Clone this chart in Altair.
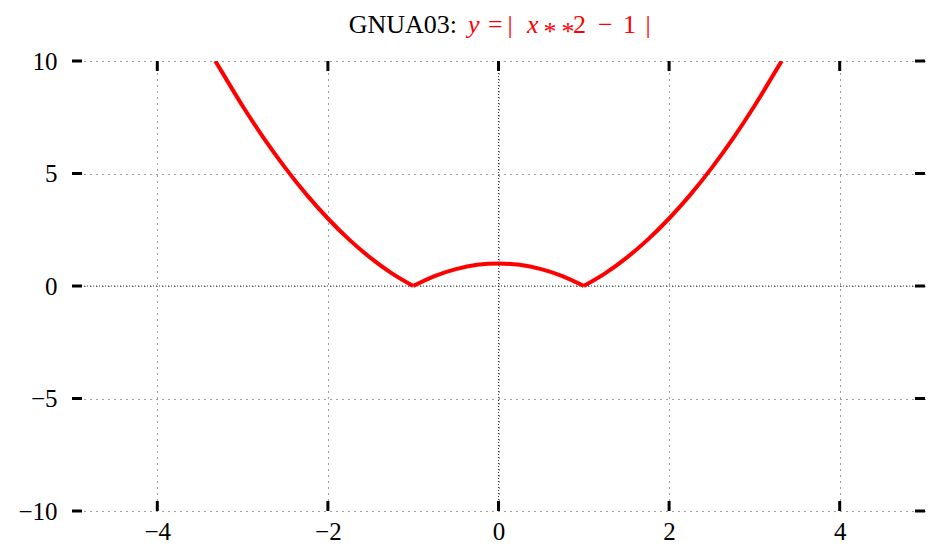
import altair as alt
import pandas as pd

# Curve values (y = |x**2 - 1|)
x_vals = [-3.32, -3.25, -3.0, -2.75, -2.5, -2.25, -2.0, -1.75, -1.5, -1.25, -1.0,
          -0.75, -0.5, -0.25, 0.0, 0.25, 0.5, 0.75, 1.0, 1.25, 1.5, 1.75, 2.0,
          2.25, 2.5, 2.75, 3.0, 3.25, 3.32]
y_vals = [10.0, 9.56, 8.0, 6.56, 5.25, 4.06, 3.0, 2.06, 1.25, 0.56, 0.0,
          0.44, 0.75, 0.94, 1.0, 0.94, 0.75, 0.44, 0.0, 0.56, 1.25, 2.06, 3.0,
          4.06, 5.25, 6.56, 8.0, 9.56, 10.0]
x_ticks = [-4, -2, 0, 2, 4]
y_ticks = [-10, -5, 0, 5, 10]

W, H = 853, 450
FONT = "Liberation Serif"
FS = 25

# split the curve at its two corners so each smooth piece is drawn separately
i1 = x_vals.index(-1.0)
i2 = x_vals.index(1.0)
pieces = []
for k, (a, b) in enumerate([(0, i1 + 1), (i1, i2 + 1), (i2, len(x_vals))]):
    pieces.append(pd.DataFrame({"x": x_vals[a:b], "y": y_vals[a:b], "seg": k}))
curve_df = pd.concat(pieces, ignore_index=True)

xs = alt.Scale(domain=[-5, 5], nice=False, zero=False)
ys = alt.Scale(domain=[-10, 10], nice=False, zero=False)

xaxis = alt.Axis(values=x_ticks, title=None, domain=False, ticks=False, grid=True,
                 gridColor="#000", gridDash=[1, 5], gridOpacity=0.75, gridWidth=1,
                 labelFont=FONT, labelFontSize=FS, labelColor="#000", labelPadding=8,
                 format="d", labelFlush=False)
yaxis = alt.Axis(values=y_ticks, title=None, domain=False, ticks=False, grid=True,
                 gridColor="#000", gridDash=[1, 5], gridOpacity=0.75, gridWidth=1,
                 labelFont=FONT, labelFontSize=FS, labelColor="#000", labelPadding=15,
                 format="d", labelFlush=False)

curve = alt.Chart(curve_df).mark_line(color="#ff0000", strokeWidth=4, clip=True,
                                      interpolate="monotone").encode(
    x=alt.X("x:Q", scale=xs, axis=xaxis),
    y=alt.Y("y:Q", scale=ys, axis=yaxis),
    detail="seg:N",
    order="x:Q",
)

xt_df = pd.DataFrame({"x": x_ticks})
yt_df = pd.DataFrame({"y": y_ticks})

def xtick(y0, y1):
    return alt.Chart(xt_df).mark_rule(color="black", strokeWidth=3).encode(
        x=alt.X("x:Q", scale=xs, axis=xaxis), y=alt.value(y0), y2=alt.value(y1))

def ytick(x0, x1):
    return alt.Chart(yt_df).mark_rule(color="black", strokeWidth=3).encode(
        y=alt.Y("y:Q", scale=ys, axis=yaxis), x=alt.value(x0), x2=alt.value(x1))

zero_v = alt.Chart(pd.DataFrame({"x": [0]})).mark_rule(
    color="#000", strokeDash=[1, 2], strokeDashOffset=3, opacity=0.8, strokeWidth=1).encode(
    x=alt.X("x:Q", scale=xs, axis=xaxis))
zero_h = alt.Chart(pd.DataFrame({"y": [0]})).mark_rule(
    color="#000", strokeDash=[1, 2], strokeDashOffset=3, opacity=0.8, strokeWidth=1).encode(
    y=alt.Y("y:Q", scale=ys, axis=yaxis))

one = pd.DataFrame({"a": [0]})
TY = -28

def txt(s, px, color="#000", align="left", style="normal", dy=0, size=FS):
    return alt.Chart(one).mark_text(text=s, align=align, baseline="alphabetic",
                                    font=FONT, fontSize=size, color=color,
                                    fontStyle=style, dy=dy).encode(
        x=alt.value(px), y=alt.value(TY))

RED = "#ff0000"
TS = 26
title_layers = [
    txt("GNUA03:", 385, align="right", size=TS),
    txt("y", 396, RED, style="italic", size=TS),
    txt("=", 416, RED, size=TS),
    txt("|", 438, RED, align="center", size=TS),
    txt("x", 455, RED, style="italic", size=TS),
    txt("*", 478, RED, align="center", dy=7, size=TS),
    txt("*", 496, RED, align="center", dy=7, size=TS),
    txt("2", 501, RED, size=TS),
    txt("−", 526, RED, size=TS),
    txt("1", 551, RED, size=TS),
    txt("|", 576, RED, align="center", size=TS),
]

chart = alt.layer(
    zero_v, zero_h,
    xtick(H - 10, H), xtick(0, 10),
    ytick(0, 10), ytick(W - 10, W),
    curve,
    *title_layers,
).properties(
    width=W, height=H,
    padding={"left": 72, "top": 61, "right": 11, "bottom": 41},
    autosize=alt.AutoSizeParams(type="none"),
).configure_view(stroke=None).configure_axis(
    labelFont=FONT, labelFontSize=FS, labelColor="#000"
)

chart.save("out.html", embed_options={"renderer": "svg", "actions": False})
